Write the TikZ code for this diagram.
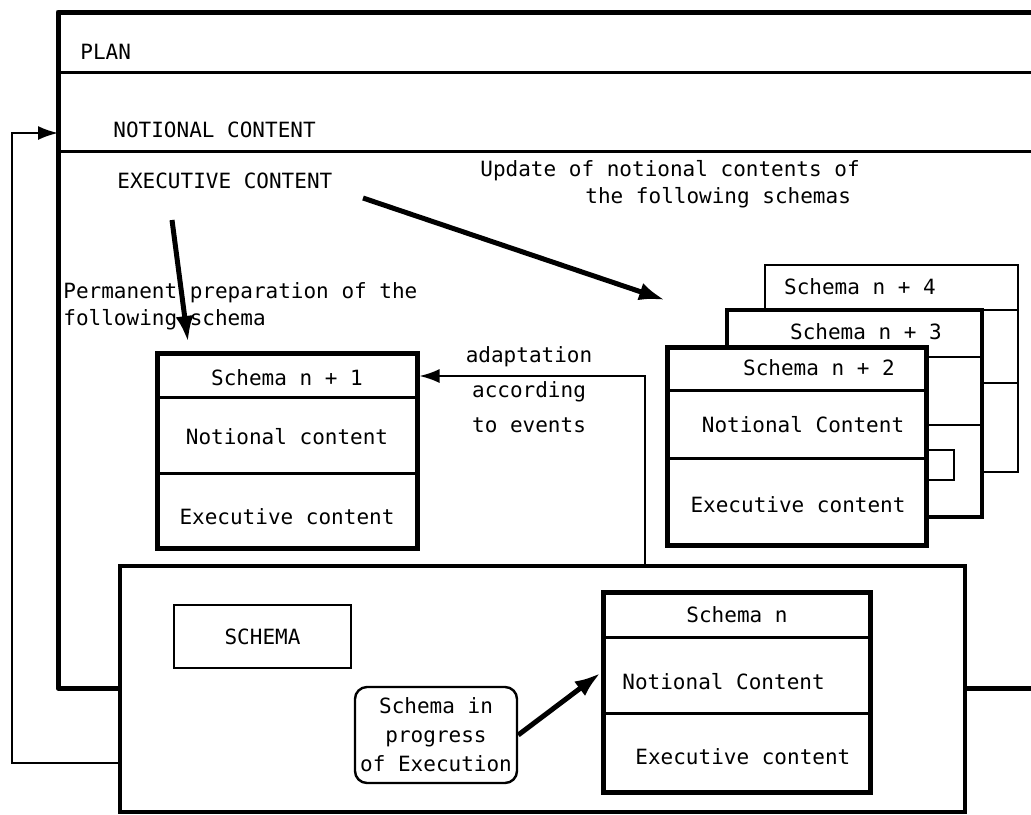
\documentclass[tikz,border=0pt]{standalone}
\usepackage{fontspec}
\setmainfont{DejaVu Sans Mono}
\usetikzlibrary{arrows.meta,calc}

\begin{document}
\begin{tikzpicture}[x=0.5pt,y=-0.5pt,
    every node/.style = {font=\fontsize{10.5}{13.5}\selectfont, inner sep=0pt},
    lbl/.style = {anchor=west},
    heavy/.style = {line width=2.5pt},
    rule/.style = {line width=1.5pt},
    thinline/.style = {line width=1pt},
    box/.style = {draw, fill=white, line width=2.5pt},
    bigarrow/.style = {heavy, -{Latex[length=13pt,width=9pt]}},
    smallarrow/.style = {thinline, -{Latex[length=10pt,width=7pt]}}]
  \useasboundingbox (0,0) rectangle (1031,814);
  \clip (0,0) rectangle (1031,814);
  % plan frame
  \draw[heavy, line join=round] (1031,12) -- (58,12) -- (58,688) -- (120,688);
  \draw[rule] (58,72) -- (1031,72);
  \draw[rule] (58,151) -- (1031,151);
  \draw[heavy] (965,688) -- (1031,688);
  \node[lbl] (plan) at (80,52) {PLAN};
  \node[lbl] (nc) at (113,130) {NOTIONAL CONTENT};
  \node[lbl] (ec) at (117,181) {EXECUTIVE CONTENT};
  \node[anchor=west, align=left] (upd) at (480,184) {Update of notional contents of\\\hspace*{52.5pt}the following schemas};
  \node[anchor=west, align=left] (perm) at (63,306) {Permanent preparation of the\\following schema};
  \node[align=center, font=\fontsize{10.5}{17.5}\selectfont] (adapt) at (529,390) {adaptation\\according\\to events};
  %
  % schema n+1
  \node[box, minimum width=130pt, minimum height=97.5pt] (s1) at (287,450.5) {};
  \draw[rule] (157,397) -- (417,397);
  \draw[rule] (157,473) -- (417,473);
  \node (s1a) at (287,378) {Schema n + 1};
  \node (s1b) at (287,437) {Notional content};
  \node (s1c) at (287,517) {Executive content};
  %
  % stack of following schemas
  \node[box, line width=1.2pt, minimum width=126.5pt, minimum height=103.5pt] (s4) at (891.5,368.5) {};
  \draw[thinline] (765,310) -- (1018,310);
  \draw[thinline] (765,383) -- (1018,383);
  \node (s4a) at (860,287) {Schema n + 4};
  \node[box, line width=1.7pt, minimum width=127.5pt, minimum height=103.5pt] (s3) at (854.5,413.5) {};
  \draw[thinline] (727,357) -- (982,357);
  \draw[thinline] (727,425) -- (982,425);
  \draw[thinline] (900,450) rectangle (954,480);
  \node (s3a) at (866,332) {Schema n + 3};
  \node[box, minimum width=129.5pt, minimum height=99pt] (s2) at (796.5,446) {};
  \draw[rule] (667,390) -- (926,390);
  \draw[rule] (667,458) -- (926,458);
  \node (s2a) at (819,368) {Schema n + 2};
  \node (s2b) at (803,425) {Notional Content};
  \node (s2c) at (798,505) {Executive content};
  %
  % schema in execution
  \node[draw, line width=2.2pt, minimum width=422.5pt, minimum height=123pt] (ex) at (542.5,689) {};
  \node[draw, line width=1.2pt, minimum width=88.5pt, minimum height=31.5pt] (sch) at (262.5,636.5) {SCHEMA};
  \node[draw, line width=1.2pt, rounded corners=6pt, minimum width=81pt, minimum height=48pt,
        align=center, font=\fontsize{10.5}{14.5}\selectfont] (prog) at (436,735) {Schema in\\progress\\of Execution};
  \node[box, minimum width=133.5pt, minimum height=100pt] (sn) at (736.5,692) {};
  \draw[rule] (603,637) -- (870,637);
  \draw[rule] (603,713) -- (870,713);
  \node (sna) at (737,615) {Schema n};
  \node[lbl] (snb) at (622,682) {Notional Content};
  \node[lbl] (snc) at (635,757) {Executive content};
  %
  % connectors
  \coordinate (e1) at (363,198);
  \coordinate (e2) at (665,300);
  \coordinate (p1) at (172,220);
  \coordinate (p2) at (188,342);
  \coordinate (a1) at (645,376);
  \coordinate (f1) at (12,763);
  \coordinate (f2) at (12,133);
  \coordinate (f3) at (58,133);
  \draw[bigarrow] (e1) -- (e2);
  \draw[bigarrow] (p1) -- (p2);
  \draw[smallarrow] (ex.north -| a1) -- (a1) -- (s1.east |- a1);
  \draw[bigarrow] (prog.east) -- ($(sn.west)+(0,-19)$);
  \draw[smallarrow] (ex.west |- f1) -- (f1) -- (f2) -- (f3);
\end{tikzpicture}
\end{document}
